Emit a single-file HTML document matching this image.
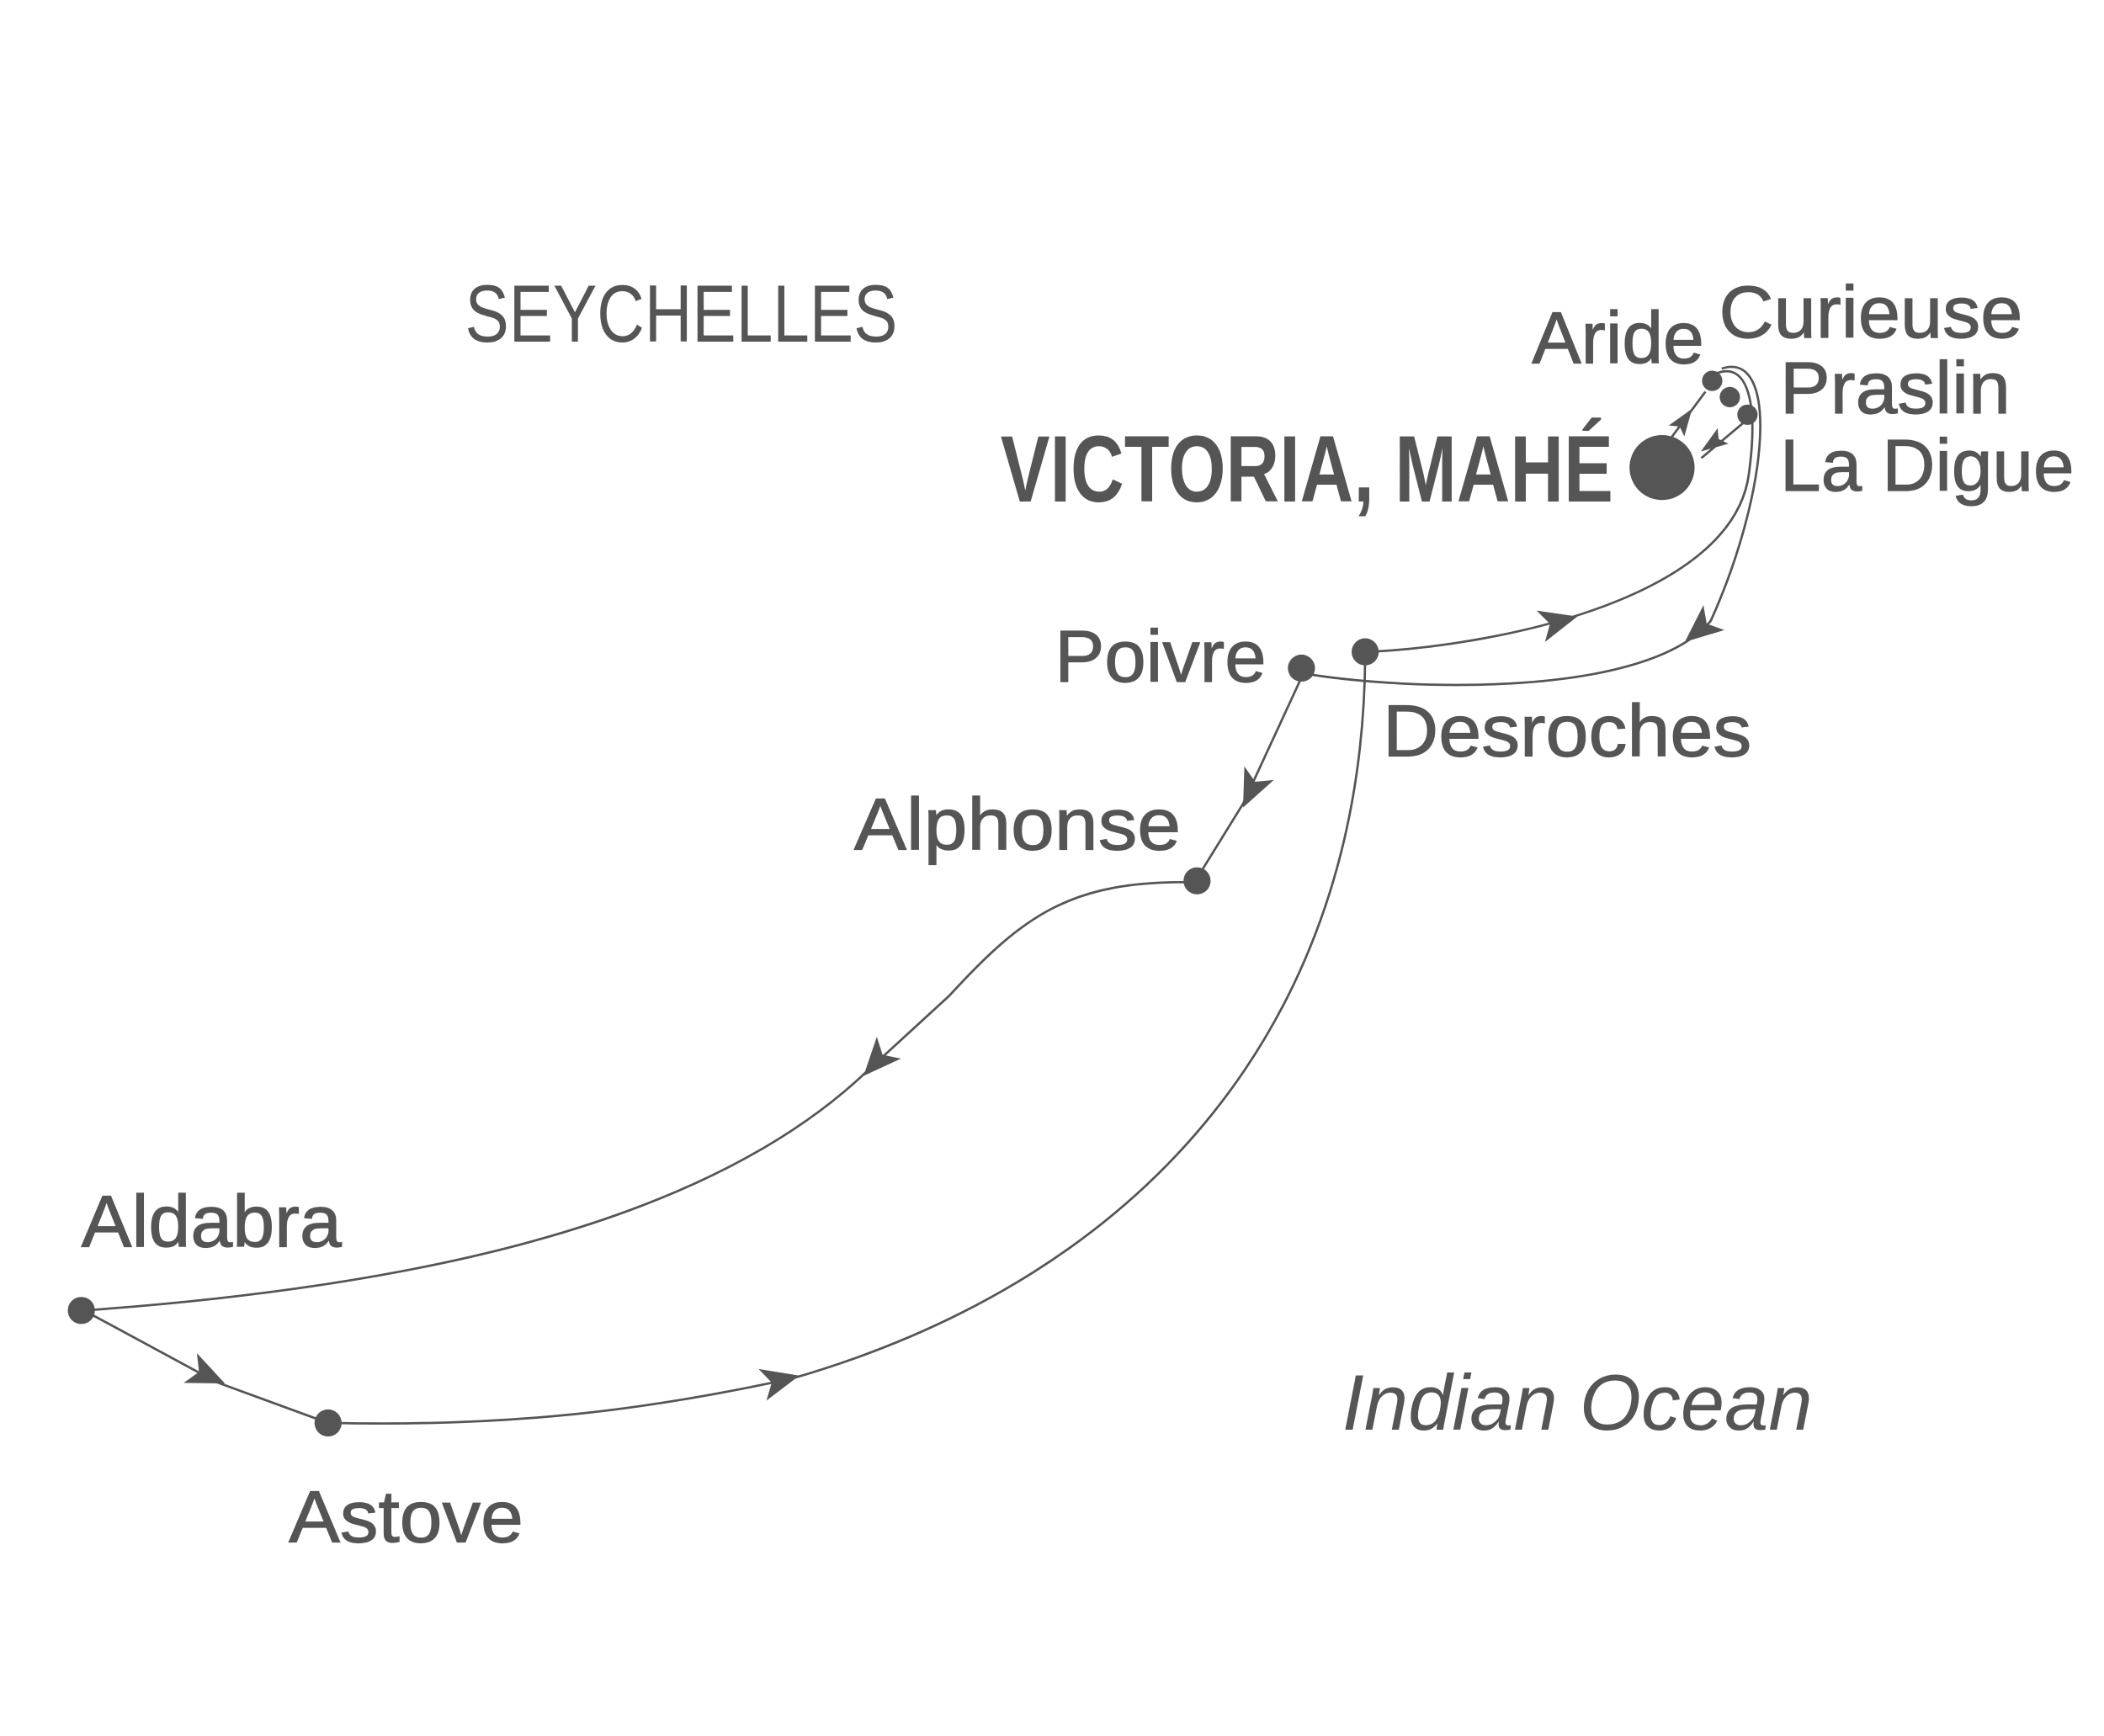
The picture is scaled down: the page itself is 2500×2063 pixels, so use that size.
<!DOCTYPE html>
<html><head><meta charset="utf-8"><style>
html,body{margin:0;padding:0;background:#fff;}
svg{display:block;}
text{font-family:"Liberation Sans",sans-serif;fill:#555;}
.l{stroke:#555;stroke-width:0.7;}
</style></head><body>
<svg width="2500" height="2063" viewBox="0 0 1552 1281" preserveAspectRatio="none" xmlns="http://www.w3.org/2000/svg">
<g fill="none" stroke="#555" stroke-width="1.7">
<path d="M1232,324 L1258,289"/>
<path d="M1286,312 L1255,338"/>
<path d="M1010,481 C1110,476 1278,440 1290,350 C1298,292 1287,266 1265,276"/>
<path d="M1270,272 C1312,258 1306,360 1262,458 C1215,515 1040,510 962,497"/>
<path d="M960,500 L917,593 L883,648"/>
<path d="M878,651 C790,650 755,675 700,735 L640,790 C520,905 300,950 62,967"/>
<path d="M62,967 L160,1020 L242,1050"/>
<path d="M245,1050 C380,1053 480,1040 585,1017 C850,940 1005,750 1007,485"/>
</g>
<g fill="#555">
<g transform="translate(1243,309) rotate(-55)"><polygon points="9,0 -11,-7 -7,0 -11,7"/></g>
<g transform="translate(1262,328) rotate(145)"><polygon points="9,0 -11,-7 -7,0 -11,7"/></g>
<g transform="translate(1152,458) rotate(-15)"><polygon points="12,0 -16,-12 -9,0 -16,12"/></g>
<g transform="translate(1252,466) rotate(140)"><polygon points="12,0 -16,-12 -9,0 -16,12"/></g>
<g transform="translate(922,585) rotate(115)"><polygon points="12,0 -16,-12 -9,0 -16,12"/></g>
<g transform="translate(645,785) rotate(132)"><polygon points="12,0 -16,-12 -9,0 -16,12"/></g>
<g transform="translate(155,1016) rotate(24)"><polygon points="12,0 -16,-12 -9,0 -16,12"/></g>
<g transform="translate(578,1018) rotate(-14)"><polygon points="12,0 -16,-12 -9,0 -16,12"/></g>
<circle cx="1226" cy="345" r="24"/>
<circle cx="1263" cy="281" r="7.5"/>
<circle cx="1276" cy="293" r="7.5"/>
<circle cx="1289" cy="306" r="7.5"/>
<circle cx="960" cy="493" r="10"/>
<circle cx="1007" cy="481" r="10"/>
<circle cx="883" cy="650" r="10"/>
<circle cx="60" cy="967" r="10"/>
<circle cx="242" cy="1050" r="10"/>
</g>
<text x="343" y="252" font-size="60" textLength="319" lengthAdjust="spacingAndGlyphs">SEYCHELLES</text>
<text x="738" y="370" font-size="70" font-weight="bold" textLength="452" lengthAdjust="spacingAndGlyphs">VICTORIA, MAHÉ</text>
<text class="l" x="1130" y="268" font-size="54" textLength="127" lengthAdjust="spacingAndGlyphs">Aride</text>
<text class="l" x="1268" y="249" font-size="54" textLength="224" lengthAdjust="spacingAndGlyphs">Curieuse</text>
<text class="l" x="1313" y="305" font-size="54" textLength="170" lengthAdjust="spacingAndGlyphs">Praslin</text>
<text class="l" x="1313" y="362" font-size="54" textLength="217" lengthAdjust="spacingAndGlyphs">La Digue</text>
<text class="l" x="778" y="503" font-size="54" textLength="156" lengthAdjust="spacingAndGlyphs">Poivre</text>
<text class="l" x="1020" y="558" font-size="54" textLength="272" lengthAdjust="spacingAndGlyphs">Desroches</text>
<text class="l" x="630" y="627" font-size="54" textLength="241" lengthAdjust="spacingAndGlyphs">Alphonse</text>
<text class="l" x="60" y="920" font-size="54" textLength="192" lengthAdjust="spacingAndGlyphs">Aldabra</text>
<text class="l" x="213" y="1138" font-size="54" textLength="173" lengthAdjust="spacingAndGlyphs">Astove</text>
<text x="990" y="1055" font-size="58" font-style="italic" textLength="347" lengthAdjust="spacingAndGlyphs">Indian Ocean</text>
</svg>
</body></html>
